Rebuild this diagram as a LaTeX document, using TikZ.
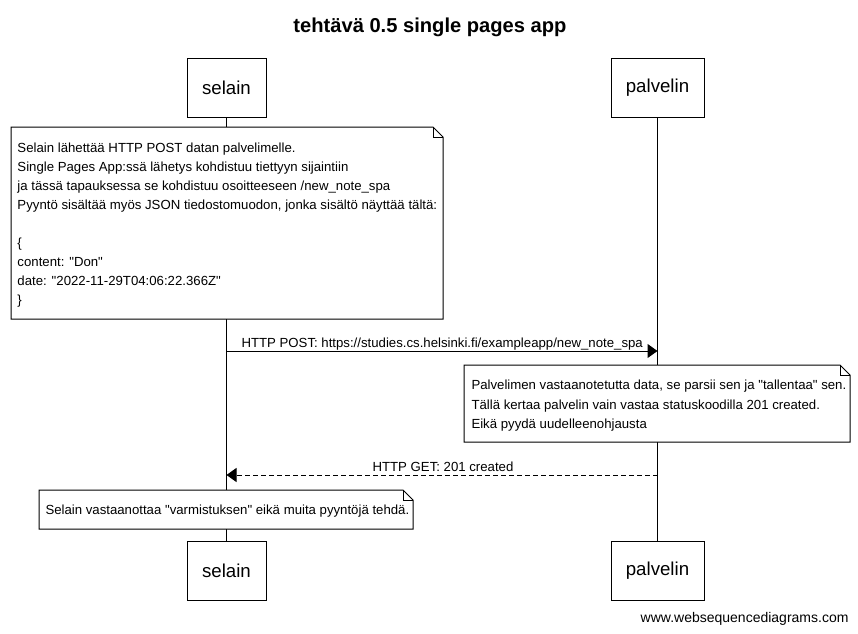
\documentclass[tikz,border=0pt]{standalone}
\usepackage{fontspec}
\setmainfont{Liberation Sans}[Ligatures=TeXOff]
\usetikzlibrary{arrows.meta}
\newcommand{\foldnote}[1]{%
  \draw[fill=white] (#1.north west) -- ([xshift=-7.5pt]#1.north east) -- ([yshift=-7.5pt]#1.north east) -- (#1.south east) -- (#1.south west) -- cycle;
  \draw ([xshift=-7.5pt]#1.north east) -- ([xshift=-7.5pt,yshift=-7.5pt]#1.north east) -- ([yshift=-7.5pt]#1.north east);}
\begin{document}
\begin{tikzpicture}[x=0.75pt,y=-0.75pt,line width=0.75pt,
  actor/.style={draw,fill=white,minimum height=44.25pt,inner sep=0pt,font=\fontsize{14}{16}\selectfont},
  notearea/.style={draw=none,inner sep=0pt,anchor=north west},
  notetext/.style={inner sep=0pt,anchor=north west,align=left,font=\fontsize{9.9}{14.25}\selectfont},
  msg/.style={-{Triangle[length=7.5pt,width=10.5pt]}},
  reply/.style={-{Triangle[length=7.5pt,width=10.5pt]},dash pattern=on 3.75pt off 2.25pt},
  lbl/.style={inner sep=0pt,font=\fontsize{9.9}{12}\selectfont}]
\useasboundingbox (0,0) rectangle (858,633);
% title
\node[inner sep=0pt,anchor=base,font=\fontsize{15.1}{18}\selectfont\bfseries] (title) at (430,32) {tehtävä 0.5 single pages app};
% actors
\node[actor,minimum width=59.25pt] (selTop) at (226.5,87.5) {selain};
\node[actor,minimum width=69.75pt] (palTop) at (657.5,87.5) {palvelin};
\node[actor,minimum width=59.25pt] (selBot) at (226.5,570.5) {selain};
\node[actor,minimum width=69.75pt] (palBot) at (657.5,570.5) {palvelin};
% lifelines
\draw (selTop.south) -- (selBot.north);
\draw (palTop.south) -- (palBot.north);
% note 1
\node[notearea,minimum width=323.25pt,minimum height=143.25pt] (n1) at (11,127) {};
\foldnote{n1}
\node[notetext] (t1) at (17,138.7) {\strut Selain lähettää HTTP POST datan palvelimelle.\\
Single Pages App:ssä lähetys kohdistuu tiettyyn sijaintiin\\
ja tässä tapauksessa se kohdistuu osoitteeseen /new\_note\_spa\\
Pyyntö sisältää myös JSON tiedostomuodon, jonka sisältö näyttää tältä:\\
\strut\\
\{\\
content: "Don"\\
date: "2022-11-29T04:06:22.366Z"\\
\}};
% message 1
\coordinate (m1s) at (selTop.south |- 0,351);
\coordinate (m1e) at (palTop.south |- 0,351);
\draw[msg] (m1s) -- (m1e);
\node[lbl,anchor=base west] (l1) at (241,347) {HTTP POST: https://studies.cs.helsinki.fi/exampleapp/new\_note\_spa};
% note 2
\node[notearea,minimum width=288.75pt,minimum height=57pt] (n2) at (464,365) {};
\foldnote{n2}
\node[notetext,font=\fontsize{9.9}{14.6}\selectfont] (t2) at (471,375.4) {\strut Palvelimen vastaanotetutta data, se parsii sen ja "tallentaa" sen.\\
Tällä kertaa palvelin vain vastaa statuskoodilla 201 created.\\
Eikä pyydä uudelleenohjausta};
% message 2
\coordinate (m2s) at (palTop.south |- 0,475);
\coordinate (m2e) at (selTop.south |- 0,475);
\draw[reply] (m2s) -- (m2e);
\node[lbl,anchor=base] (l2) at (443,471) {HTTP GET: 201 created};
% note 3
\node[notearea,minimum width=279.75pt,minimum height=28.5pt] (n3) at (39,490) {};
\foldnote{n3}
\node[notetext,anchor=base west] (t3) at (45,514) {Selain vastaanottaa "varmistuksen" eikä muita pyyntöjä tehdä.};
% footer
\node[inner sep=0pt,anchor=base east,font=\fontsize{10.5}{12}\selectfont] (foot) at (849,622) {www.websequencediagrams.com};
\end{tikzpicture}
\end{document}
